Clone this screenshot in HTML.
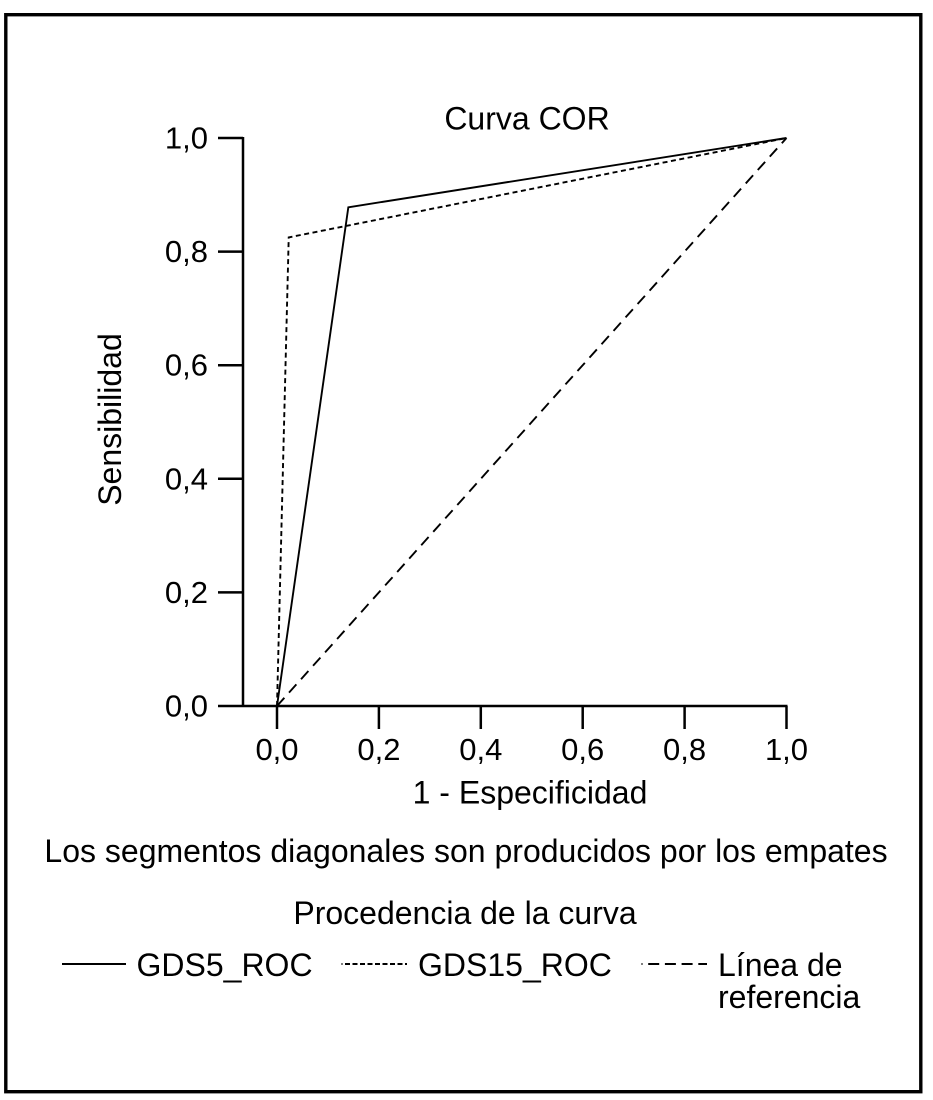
<!DOCTYPE html>
<html lang="es">
<head>
<meta charset="utf-8">
<title>Curva COR</title>
<style>
html,body{margin:0;padding:0;background:#fff;width:933px;height:1100px;overflow:hidden}
svg{display:block}
text{font-family:"Liberation Sans",Arial,sans-serif;fill:#000}
</style>
</head>
<body>
<svg id="chart" xmlns="http://www.w3.org/2000/svg" width="933" height="1100" viewBox="0 0 933 1100">
  <rect x="5.8" y="14.7" width="915" height="1077" fill="none" stroke="#000" stroke-width="3.4"/>
  <text x="527" y="129.5" font-size="32" text-anchor="middle">Curva COR</text>
  <text transform="translate(121,419.5) rotate(-90)" font-size="32" text-anchor="middle">Sensibilidad</text>
  <text x="530" y="803.5" font-size="32" text-anchor="middle">1 - Especificidad</text>
  <text x="466" y="862" font-size="32" text-anchor="middle">Los segmentos diagonales son producidos por los empates</text>
  <text x="465" y="924" font-size="32" text-anchor="middle">Procedencia de la curva</text>
  <g id="axes"></g>
  <g id="series"></g>
  <g>
    <line x1="62" x2="126" y1="964" y2="964" stroke="#000" stroke-width="2"/>
    <text x="136.5" y="976" font-size="32">GDS5_ROC</text>
    <line x1="341.5" x2="407" y1="964" y2="964" stroke="#000" stroke-width="2" stroke-dasharray="5 2.5" stroke-dashoffset="4"/>
    <text x="418" y="976" font-size="32">GDS15_ROC</text>
    <line x1="641.5" x2="707" y1="964" y2="964" stroke="#000" stroke-width="2" stroke-dasharray="11 5.7" stroke-dashoffset="10"/>
    <text x="718" y="976" font-size="32">Línea de</text>
    <text x="718" y="1008" font-size="32">referencia</text>
  </g>
</svg>
<script>
const xTickValues = [0, 0.2, 0.4, 0.6, 0.8, 1];
const yTickValues = [0, 0.2, 0.4, 0.6, 0.8, 1];
const xTickLabels = ['0,0', '0,2', '0,4', '0,6', '0,8', '1,0'];
const yTickLabels = ['0,0', '0,2', '0,4', '0,6', '0,8', '1,0'];
const gds5Fpr = [0, 0.14, 1];
const gds5Tpr = [0, 0.878, 1];
const gds15Fpr = [0, 0.023, 1];
const gds15Tpr = [0, 0.825, 1];
const referenceFpr = [0, 1];
const referenceTpr = [0, 1];

const NS = 'http://www.w3.org/2000/svg';
const xScale = function (v) { return 277 + v * 509.5; };
const yScale = function (v) { return 706 - v * 568; };
const axes = document.getElementById('axes');
const seriesGroup = document.getElementById('series');

function addLine(parent, x1, y1, x2, y2, width) {
  const l = document.createElementNS(NS, 'line');
  l.setAttribute('x1', x1);
  l.setAttribute('y1', y1);
  l.setAttribute('x2', x2);
  l.setAttribute('y2', y2);
  l.setAttribute('stroke', '#000');
  l.setAttribute('stroke-width', width);
  parent.appendChild(l);
  return l;
}
function addText(parent, x, y, str, anchor) {
  const t = document.createElementNS(NS, 'text');
  t.setAttribute('x', x);
  t.setAttribute('y', y);
  t.setAttribute('font-size', '31');
  t.setAttribute('text-anchor', anchor);
  t.textContent = str;
  parent.appendChild(t);
  return t;
}

const yAxisLine = addLine(axes, 243, yScale(1) - 1, 243, yScale(0), 2.5);


const xAxisLine = addLine(axes, 243, yScale(0), xScale(1) + 1, yScale(0), 2.5);



xTickValues.forEach(function (v, i) {
  const tick = addLine(axes, xScale(v), yScale(0), xScale(v), yScale(0) + 23, 2.5);
  
  
  const label = addText(axes, xScale(v), 760, xTickLabels[i], 'middle');
  
  
});
yTickValues.forEach(function (v, i) {
  const tick = addLine(axes, 218, yScale(v), 243, yScale(v), 2.5);
  
  
  const label = addText(axes, 208, yScale(v) + 10.5, yTickLabels[i], 'end');
  
  
});

function addSeries(xs, ys, dash) {
  const p = document.createElementNS(NS, 'polyline');
  p.setAttribute('points', xs.map(function (x, i) { return xScale(x) + ',' + yScale(ys[i]); }).join(' '));
  p.setAttribute('fill', 'none');
  p.setAttribute('stroke', '#000');
  p.setAttribute('stroke-width', '1.9');
  if (dash) { p.setAttribute('stroke-dasharray', dash); }
  seriesGroup.appendChild(p);
  return p;
}
const refLine = addSeries(referenceFpr, referenceTpr, '11 7');


const gds15Line = addSeries(gds15Fpr, gds15Tpr, '5 3.5');


const gds5Line = addSeries(gds5Fpr, gds5Tpr, '');


</script>
</body>
</html>
